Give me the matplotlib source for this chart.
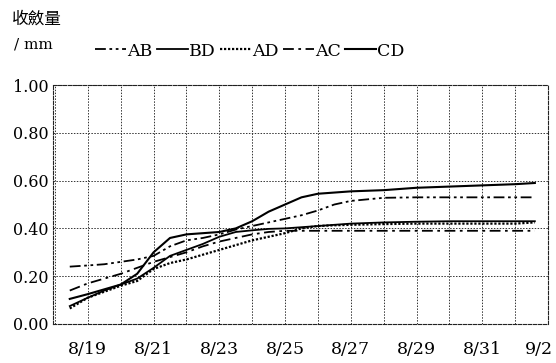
import matplotlib
matplotlib.use("Agg")
import matplotlib.pyplot as plt
from matplotlib.transforms import ScaledTranslation

# ---- data (day offset from 8/19) ----
days = [-0.55, 0, 0.5, 1, 1.5, 2, 2.5, 3, 3.5, 4, 4.5, 5, 5.5, 6, 6.5, 7, 7.5,
        8, 9, 10, 11, 12, 13, 13.6]

AB = [0.24, 0.245, 0.25, 0.26, 0.27, 0.285, 0.325, 0.35, 0.36, 0.375, 0.395, 0.41,
      0.425, 0.44, 0.455, 0.475, 0.50, 0.515, 0.528, 0.53, 0.53, 0.53, 0.53, 0.53]
BD = [0.075, 0.11, 0.14, 0.165, 0.19, 0.235, 0.285, 0.31, 0.335, 0.365, 0.385, 0.392,
      0.398, 0.40, 0.405, 0.41, 0.415, 0.42, 0.425, 0.428, 0.43, 0.43, 0.43, 0.43]
AD = [0.065, 0.11, 0.135, 0.16, 0.18, 0.23, 0.255, 0.27, 0.29, 0.31, 0.33, 0.35,
      0.365, 0.38, 0.40, 0.41, 0.413, 0.415, 0.418, 0.42, 0.42, 0.42, 0.42, 0.425]
AC = [0.14, 0.17, 0.19, 0.21, 0.235, 0.26, 0.28, 0.30, 0.325, 0.345, 0.36, 0.375,
      0.385, 0.39, 0.39, 0.39, 0.39, 0.39, 0.39, 0.39, 0.39, 0.39, 0.39, 0.39]
CD = [0.105, 0.125, 0.145, 0.165, 0.21, 0.30, 0.36, 0.375, 0.38, 0.385, 0.40, 0.43,
      0.47, 0.50, 0.53, 0.545, 0.55, 0.555, 0.56, 0.57, 0.575, 0.58, 0.585, 0.59]

tick_days = [0, 2, 4, 6, 8, 10, 12, 14]
tick_labels = ["8/19", "8/21", "8/23", "8/25", "8/27", "8/29", "8/31", "9/2"]
y_ticks = [0.0, 0.2, 0.4, 0.6, 0.8, 1.0]

SERIF = ["DejaVu Serif"]
CJK = ["Noto Sans CJK TC", "DejaVu Serif"]

fig = plt.figure(figsize=(5.56, 3.63), dpi=100)
ax = fig.add_axes([53/556, 1 - 324/363, (548-53)/556, (324-85)/363])

styles = {
    "AB": dict(ls=(0, (6, 2, 1.5, 2, 1.5, 2)), lw=1.3),
    "BD": dict(ls="-", lw=1.3),
    "AD": dict(ls=(0, (1, 0.8)), lw=1.6),
    "AC": dict(ls=(0, (6, 2.5, 1.5, 2.5)), lw=1.3),
    "CD": dict(ls="-", lw=1.5),
}
series = {"AB": AB, "BD": BD, "AD": AD, "AC": AC, "CD": CD}
handles = []
for name, vals in series.items():
    ln, = ax.plot(days, vals, color="black", label=name, **styles[name])
    handles.append(ln)

ax.set_xlim(-1.06, 13.97)
ax.set_ylim(0, 1.0)
ax.set_xticks(tick_days)
ax.set_xticklabels(tick_labels, family=SERIF, fontsize=12.5)
ax.set_yticks(y_ticks)
ax.set_yticklabels([f"{v:.2f}" for v in y_ticks], family=SERIF, fontsize=11.5)
ax.set_xticks(list(range(-1, 14)), minor=True)
ax.tick_params(axis="both", which="both", length=0)
ax.tick_params(axis="x", pad=12)
ax.tick_params(axis="y", pad=3)
# shift the last x label left so it stays inside the figure
last = ax.get_xticklabels()[-1]
last.set_transform(last.get_transform() + ScaledTranslation(-9/100, 0, fig.dpi_scale_trans))

ax.grid(True, which="both", axis="x", ls=(0, (1.5, 1.5)), lw=0.7, color="#333333")
ax.grid(True, which="major", axis="y", ls=(0, (1.5, 1.5)), lw=0.7, color="#333333")
for sp in ax.spines.values():
    sp.set_linestyle((0, (3, 1.5)))
    sp.set_linewidth(0.8)
    sp.set_color("#222222")

fig.legend(handles=handles, labels=list(series.keys()), loc="center left",
           bbox_to_anchor=(95/556, 1 - 51/363), ncol=5, frameon=False,
           prop={"family": SERIF, "size": 12.5}, handlelength=1.8,
           handletextpad=0.05, columnspacing=0.25, borderaxespad=0,
           borderpad=0)

fig.text(12/556, 1 - 19/363, "收斂量", family=CJK, fontsize=12, va="center",
         ha="left")
fig.text(14/556, 1 - 44/363, "/ mm", family=SERIF, fontsize=11, va="center",
         ha="left")

fig.savefig("out.png", dpi=100)
